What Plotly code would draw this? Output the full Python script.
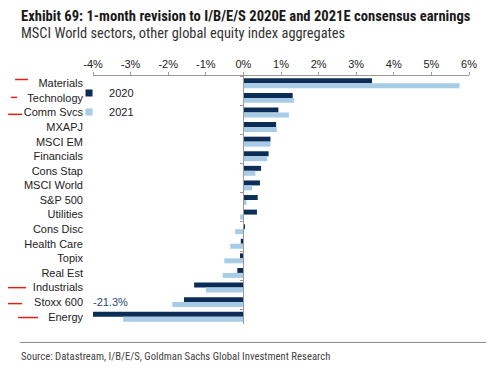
import plotly.graph_objects as go

categories = ["Materials", "Technology", "Comm Svcs", "MXAPJ", "MSCI EM", "Financials",
              "Cons Stap", "MSCI World", "S&P 500", "Utilities", "Cons Disc", "Health Care",
              "Topix", "Real Est", "Industrials", "Stoxx 600", "Energy"]
rev_2020 = [3.42, 1.31, 0.93, 0.87, 0.72, 0.67, 0.47, 0.44, 0.38, 0.36, 0.04, -0.07,
            -0.09, -0.16, -1.31, -1.58, -21.3]
rev_2021 = [5.75, 1.35, 1.21, 0.89, 0.72, 0.63, 0.32, 0.23, 0.08, -0.09, -0.22, -0.35,
            -0.51, -0.55, -1.0, -1.89, -3.2]
x_ticks = [-4, -3, -2, -1, 0, 1, 2, 3, 4, 5, 6]
x_tick_labels = [f"{v}%" for v in x_ticks]
energy_label = "-21.3%"
series_names = ["2020", "2021"]

C2020 = "#0b2d56"
C2021 = "#a9cce6"
FONT = "Liberation Sans"
NARROW = "Liberation Sans Narrow, Roboto Condensed, Liberation Sans"

# the page body has an 8px margin; size the figure to fill the window exactly
OFF = 8
W, H = 494 - OFF, 377 - OFF
# plot-area edges in window pixels
PL, PR, PT, PB = 93, 469.5, 75.5, 324.5
ml, mr, mt, mb = PL - OFF, W - (PR - OFF), PT - OFF, H - (PB - OFF)
plotW, plotH = W - ml - mr, H - mt - mb

def px_x(p):
    return (p - OFF - ml) / plotW

def px_y(p):
    return (H - mb - (p - OFF)) / plotH

fig = go.Figure()
for name, vals, col in [(series_names[0], rev_2020, C2020), (series_names[1], rev_2021, C2021)]:
    fig.add_trace(go.Bar(y=categories, x=vals, orientation="h", name=name, showlegend=False,
                         legendgroup=name, marker=dict(color=col, line=dict(width=0))))
# legend proxies with small square symbols
for name, col in [(series_names[0], C2020), (series_names[1], C2021)]:
    fig.add_trace(go.Scatter(x=[None], y=[None], mode="markers", name=name, legendgroup=name,
                             marker=dict(symbol="square", size=7, color=col)))
# invisible helper for the axis line at 0 with boundary ticks
fig.add_trace(go.Scatter(y=categories, x=[0] * len(categories), yaxis="y2", mode="markers",
                         marker=dict(opacity=0), showlegend=False, hoverinfo="skip"))

n = len(categories)

fig.update_layout(
    width=W, height=H,
    margin=dict(l=ml, r=mr, t=mt, b=mb, autoexpand=False),
    paper_bgcolor="white", plot_bgcolor="white",
    barmode="group", bargap=0.32, bargroupgap=0,
    font=dict(family=FONT, size=11, color="#222222"),
    xaxis=dict(side="top", range=[-4, 6], tickvals=x_ticks, ticktext=x_tick_labels,
               showgrid=False, zeroline=False, showline=True, linecolor="#9a9a9a",
               linewidth=1, ticks="outside", ticklen=3, tickcolor="#9a9a9a", automargin=False,
               tickfont=dict(size=11, color="#222222")),
    yaxis=dict(range=[n - 0.5, -0.5], showgrid=False, zeroline=False, showline=False,
               ticks="", ticklabelstandoff=9, automargin=False,
               tickfont=dict(size=11, color="#222222")),
    yaxis2=dict(overlaying="y", anchor="free", position=0.4, range=[n - 0.5, -0.5],
                showgrid=False, zeroline=False, showline=True, linecolor="#9a9a9a",
                linewidth=1, ticks="outside", ticklen=3, tickcolor="#9a9a9a", automargin=False,
                tickson="boundaries", showticklabels=False),
    legend=dict(x=px_x(69), y=px_y(78), xanchor="left", yanchor="top", bgcolor="rgba(0,0,0,0)",
                font=dict(size=11, color="#222222"), itemwidth=30, traceorder="normal"),
    showlegend=True,
)

fig.add_annotation(x=-4, y="Stoxx 600", text=energy_label, showarrow=False, xanchor="left",
                   xshift=-2, font=dict(size=11, color="#2b4a73"))

# titles
fig.add_annotation(xref="paper", yref="paper", x=px_x(19), y=px_y(15),
                   text="<b>Exhibit 69: 1-month revision to I/B/E/S 2020E and 2021E consensus earnings</b>",
                   showarrow=False, xanchor="left", yanchor="middle",
                   font=dict(family=NARROW, size=14.6, color="#1a1a1a"))
fig.add_annotation(xref="paper", yref="paper", x=px_x(19), y=px_y(33),
                   text="MSCI World sectors, other global equity index aggregates",
                   showarrow=False, xanchor="left", yanchor="middle",
                   font=dict(family=NARROW, size=14.4, color="#333333"))
fig.add_annotation(xref="paper", yref="paper", x=px_x(19), y=px_y(357),
                   text="Source: Datastream, I/B/E/S, Goldman Sachs Global Investment Research",
                   showarrow=False, xanchor="left", yanchor="middle",
                   font=dict(family=NARROW, size=10.7, color="#444444"))

fig.add_shape(type="line", xref="paper", yref="paper", x0=px_x(20), x1=px_x(494),
              y0=px_y(343), y1=px_y(343), line=dict(color="#888888", width=1))

# hand-drawn red marks
red_marks = [(15, 28, 79), (11, 17, 97), (8, 22, 114), (5, 26, 288), (7, 22, 304), (18, 38, 318)]
for a, b, yy in red_marks:
    fig.add_shape(type="line", xref="paper", yref="paper", x0=px_x(a), x1=px_x(b),
                  y0=px_y(yy), y1=px_y(yy), line=dict(color="#e0201b", width=1.5))

fig.write_html("out.html")
